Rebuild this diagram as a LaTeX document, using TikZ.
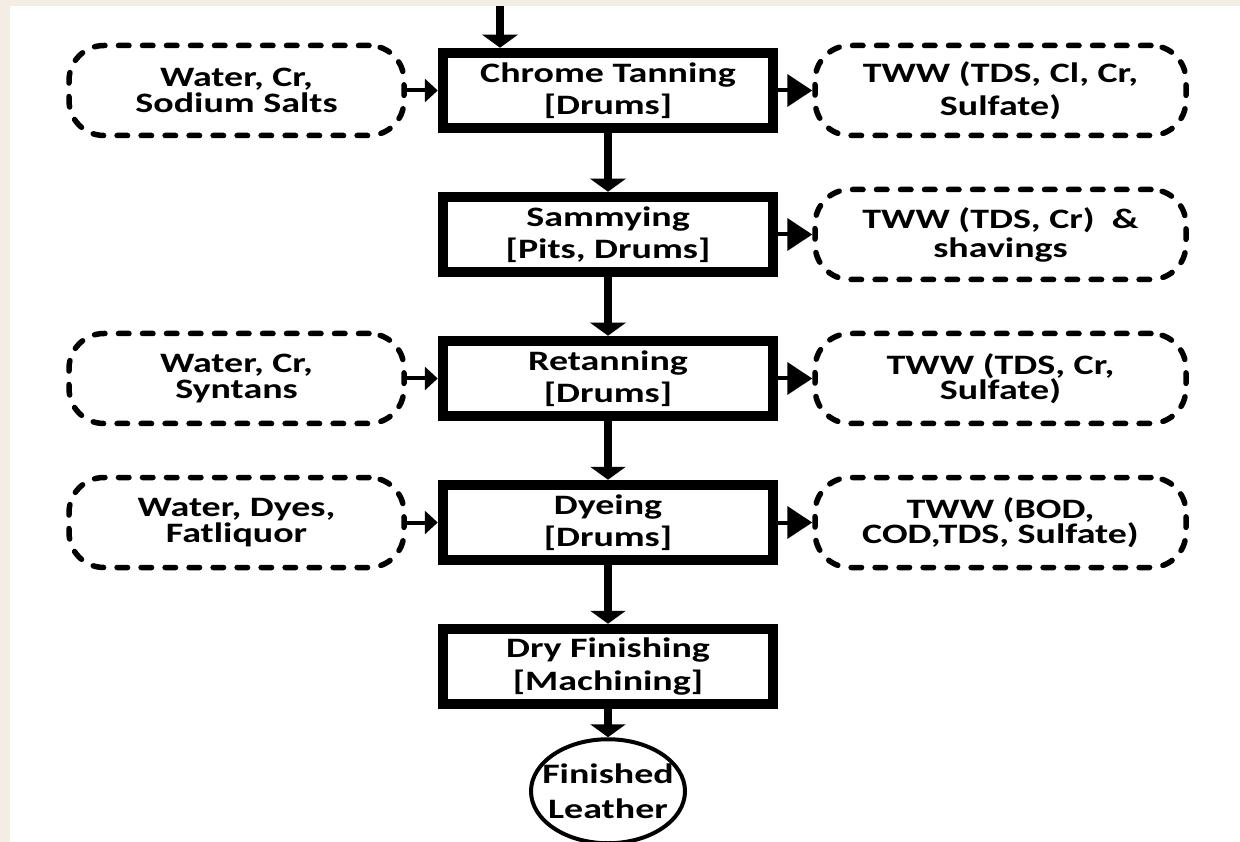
\documentclass[tikz,border=0pt]{standalone}
\usepackage{fontspec}
\setmainfont{Carlito}[FakeStretch=1.35]
\usetikzlibrary{positioning,shapes.geometric,arrows.meta}
\definecolor{pagebeige}{RGB}{244,237,228}

\begin{document}
\begin{tikzpicture}
[node distance = 1.17cm,
 font=\fontsize{16}{18.5}\selectfont\bfseries,
 stage/.style={draw, line width=0.21cm, minimum width=6.6cm, minimum height=1.5cm, align=center, inner sep=0pt},
 inflow/.style={draw, line width=0.11cm, dash pattern=on 0.21cm off 0.27cm, line cap=round, rounded corners=0.7cm, minimum width=6.7cm, minimum height=1.8cm, align=center, inner sep=0pt},
 outflow/.style={inflow, minimum width=7.42cm},
 tight/.style={font=\fontsize{16}{14.5}\selectfont\bfseries},
 medium/.style={font=\fontsize{16}{16.5}\selectfont\bfseries},
 flow/.style={-{Triangle[width=0.7cm,length=0.26cm]}, line width=0.16cm},
 feed/.style={-{Triangle[width=0.46cm,length=0.26cm]}, line width=0.08cm},
 waste/.style={-{Triangle[width=0.64cm,length=0.5cm]}, line width=0.08cm}]

\fill[pagebeige] (0,0) rectangle (24.8,-16.84);
\fill[white] (0.2,-0.12) rectangle (24.8,-16.84);
\useasboundingbox (0,0) rectangle (24.8,-16.84);

% process line
\node[stage] (chrome) at (12.16,-1.81) {Chrome Tanning\\{[Drums]}};
\node[stage, below=of chrome] (sammy) {Sammying\\{[Pits, Drums]}};
\node[stage, below=of sammy] (retan) {Retanning\\{[Drums]}};
\node[stage, below=of retan] (dye) {Dyeing\\{[Drums]}};
\node[stage, below=of dye] (dry) {Dry Finishing\\{[Machining]}};
\node[ellipse, draw, line width=0.08cm, minimum width=3.08cm, minimum height=2.08cm, inner sep=0pt, below=0.56cm of dry,
      label={[align=center, font=\fontsize{16}{19.5}\selectfont\bfseries]center:Finished\\Leather}] (leather) {};

\node[inflow, tight, left=0.62cm of chrome] (inA) {Water, Cr,\\Sodium Salts};
\node[inflow, tight, left=0.62cm of retan] (inC) {Water, Cr,\\Syntans};
\node[inflow, tight, left=0.62cm of dye] (inD) {Water, Dyes,\\Fatliquor};

\node[outflow, right=0.68cm of chrome] (outA) {TWW (TDS, Cl, Cr,\\Sulfate)};
\node[outflow, medium, right=0.68cm of sammy] (outB) {TWW (TDS, Cr)\ \ \&\\shavings};
\node[outflow, tight, right=0.68cm of retan] (outC) {TWW (TDS, Cr,\\Sulfate)};
\node[outflow, tight, right=0.68cm of dye] (outD) {TWW (BOD,\\COD,TDS, Sulfate)};

\coordinate (feedin) at (10.0,-0.12);
\draw[flow] (feedin) -- (feedin |- chrome.north);
\draw[flow] (chrome) -- (sammy);
\draw[flow] (sammy) -- (retan);
\draw[flow] (retan) -- (dye);
\draw[flow] (dye) -- (dry);
\draw[flow] (dry) -- (leather);

\draw[feed] (inA) -- (chrome);
\draw[feed] (inC) -- (retan);
\draw[feed] (inD) -- (dye);

\draw[waste] (chrome) -- (outA);
\draw[waste] (sammy) -- (outB);
\draw[waste] (retan) -- (outC);
\draw[waste] (dye) -- (outD);
\end{tikzpicture}
\end{document}
